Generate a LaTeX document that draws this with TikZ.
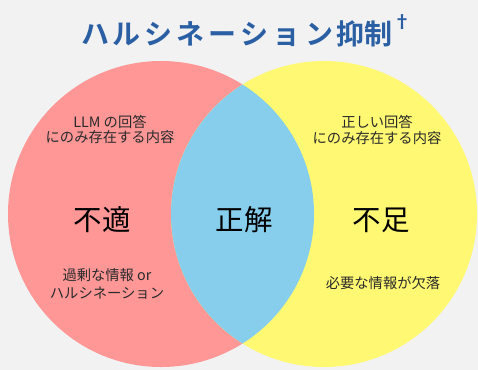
\documentclass[tikz,border=0pt]{standalone}
\usepackage{fontspec}
\setmainfont{Noto Sans CJK JP}
\newfontfamily\jpbold{Noto Sans CJK JP Bold}
\definecolor{bgc}{HTML}{F2F2F2}
\definecolor{pinkc}{HTML}{FF9797}
\definecolor{yellowc}{HTML}{FFF872}
\definecolor{bluec}{HTML}{87CDEC}
\definecolor{titlec}{HTML}{2B5FA3}
\definecolor{txtc}{HTML}{2A2A2A}
\begin{document}
\begin{tikzpicture}[x=1pt,y=-1pt,
  smalltxt/.style={text=txtc,font=\fontsize{14.3}{15.5}\selectfont,align=center,inner sep=0pt},
  bigtxt/.style={text=black,font=\fontsize{28.5}{30}\selectfont,inner sep=0pt}]
\fill[bgc] (0,0) rectangle (478,370);
\useasboundingbox (0,0) rectangle (478,370);
\coordinate (cl) at (161,214);
\coordinate (cr) at (324,214);
\fill[pinkc] (cl) circle[radius=153];
\fill[yellowc] (cr) circle[radius=153];
\begin{scope}
  \clip (cl) circle[radius=153];
  \fill[bluec] (cr) circle[radius=153];
\end{scope}
\node[text=titlec,font=\jpbold\fontsize{28}{30}\selectfont,inner sep=0pt] (title) at (246,31) {ハ\kern4pt ル\kern4pt シ\kern4pt ネ\kern4pt ー\kern4pt シ\kern4pt ョ\kern4pt ン\kern4pt 抑制\raisebox{0.55em}{\fontsize{18}{18}\selectfont †}};
\node[smalltxt] (llm) at (110,129.5) {LLM の回答\\にのみ存在する内容};
\node[smalltxt] (gt) at (377,130) {正しい回答\\にのみ存在する内容};
\node[bigtxt] (futeki) at (102,220) {不適};
\node[bigtxt] (seikai) at (244,220) {正解};
\node[bigtxt] (fusoku) at (381,220) {不足};
\node[smalltxt,font=\fontsize{14.3}{18}\selectfont] (halu) at (107,284) {過剰な情報 or\\ハルシネーション};
\node[smalltxt] (miss) at (383,283) {必要な情報が欠落};
\end{tikzpicture}
\end{document}
